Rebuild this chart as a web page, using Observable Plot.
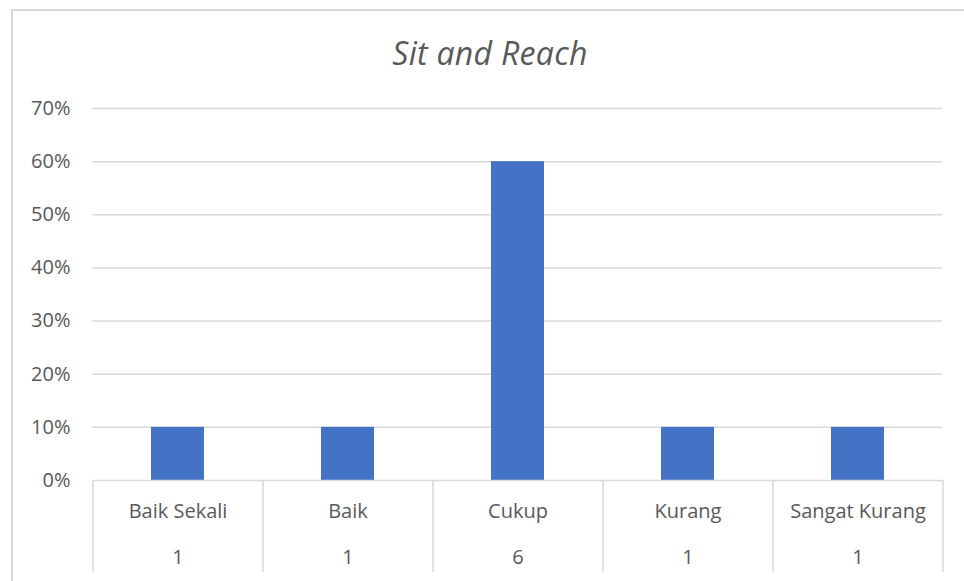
<!DOCTYPE html>
<html>
<head>
<meta charset="utf-8">
<script src="https://cdn.jsdelivr.net/npm/d3@7"></script>
<script src="https://cdn.jsdelivr.net/npm/@observablehq/plot@0.6"></script>
<style>
  html, body { margin: 0; padding: 0; background: #fff; }
  #frame { position: absolute; left: 11px; top: 9px; width: 960px; height: 600px; border-left: 2px solid #d9d9d9; border-top: 2px solid #d9d9d9; box-sizing: border-box; }
  #chart { position: absolute; left: 0; top: 0; }
  #title { position: absolute; left: 0; width: 980px; top: 31px; text-align: center; font-family: "Open Sans", sans-serif; font-style: italic; font-size: 32px; line-height: 44px; letter-spacing: 0.3px; color: #595959; }
</style>
</head>
<body>
<div id="frame"></div>
<div id="title">Sit and Reach</div>
<div id="chart"></div>
<script>
const categories = ["Baik Sekali", "Baik", "Cukup", "Kurang", "Sangat Kurang"];
const percents = [0.10, 0.10, 0.60, 0.10, 0.10];
const counts = [1, 1, 6, 1, 1];
const yTicks = [0, 0.1, 0.2, 0.3, 0.4, 0.5, 0.6, 0.7];

const data = categories.map((c, i) => ({cat: c, pct: percents[i], n: counts[i]}));
const textColor = "#595959";
const gridColor = "#d9d9d9";

const base = {
  width: 964,
  height: 581,
  marginLeft: 92,
  marginRight: 22,
  marginTop: 108,
  marginBottom: 101,
  style: {fontFamily: "'Open Sans', sans-serif", fontSize: "20px", color: textColor, background: "transparent"},
  x: {domain: categories, paddingInner: 0.69, paddingOuter: 0.345, axis: null},
  y: {domain: [0, 0.7], ticks: yTicks, tickFormat: d3.format(".0%"), label: null}
};

const probe = Plot.plot({...base, marks: [Plot.barY(data, {x: "cat", y: "pct"})]});
const step = probe.scale("x").step;

const plot = Plot.plot({
  ...base,
  marks: [
    Plot.gridY(yTicks.filter(d => d > 0), {stroke: gridColor, strokeOpacity: 1, strokeWidth: 1.5}),
    Plot.axisY(yTicks, {tickSize: 0, tickPadding: 22, tickFormat: d3.format(".0%"), fill: textColor, fontSize: 20, label: null}),
    Plot.barY(data, {x: "cat", y: "pct", fill: "#4472c4"}),
    Plot.ruleY([0], {stroke: gridColor, strokeWidth: 1.5}),
    Plot.ruleX(data, {x: "cat", y1: 0, y2: 0, dx: -step / 2, insetBottom: -92, stroke: gridColor, strokeWidth: 1.5}),
    Plot.ruleX(data.slice(-1), {x: "cat", y1: 0, y2: 0, dx: step / 2, insetBottom: -92, stroke: gridColor, strokeWidth: 1.5}),
    Plot.text(data, {x: "cat", text: "cat", frameAnchor: "bottom", dy: 37, fill: textColor, fontSize: 20}),
    Plot.text(data, {x: "cat", text: d => String(d.n), frameAnchor: "bottom", dy: 83, fill: textColor, fontSize: 20})
  ]
});
document.getElementById("chart").appendChild(plot);
</script>
</body>
</html>
